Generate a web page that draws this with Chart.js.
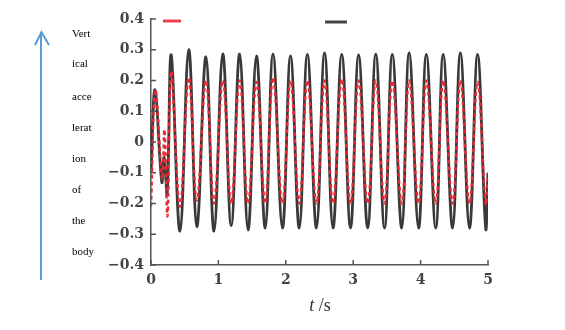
<!DOCTYPE html>
<html>
<head>
<meta charset="utf-8">
<script src="https://cdn.jsdelivr.net/npm/chart.js@4"></script>
<style>
  html, body { margin: 0; padding: 0; background: #fff; }
  #wrap { position: relative; width: 565px; height: 330px; overflow: hidden; }
  canvas { position: absolute; left: 0; top: 0; }
  .w { position: absolute; left: 72px; font-family: "Liberation Serif", serif; font-size: 11px; line-height: 11px; color: #000; white-space: nowrap; }
  #xt { position: absolute; left: 0; width: 640px; top: 296px; text-align: center; font-family: "Liberation Serif", serif; font-size: 18px; line-height: 18px; color: #333; }
  svg { position: absolute; left: 0; top: 0; }
</style>
</head>
<body>
<div id="wrap">
  <canvas id="c" width="565" height="330"></canvas>
  <svg width="565" height="330">
    <line x1="41" y1="280" x2="41" y2="32" stroke="#5b9bd5" stroke-width="2"/>
    <polyline points="35,45 41.5,32 49,45" fill="none" stroke="#5b9bd5" stroke-width="2"/>
  </svg>
  <div class="w" style="top:28px">Vert</div>
  <div class="w" style="top:58px">ical</div>
  <div class="w" style="top:91px">acce</div>
  <div class="w" style="top:122px">lerat</div>
  <div class="w" style="top:153px">ion</div>
  <div class="w" style="top:184px">of</div>
  <div class="w" style="top:215px">the</div>
  <div class="w" style="top:246px">body</div>
  <div id="xt"><i>t</i> /s</div>
</div>
<script>
// ---- data ----
const timeS = [0, 0.06, 0.16, 0.195, 0.24,
  0.30, 0.43, 0.56, 0.68, 0.815, 0.935, 1.065, 1.19, 1.315, 1.44,
  1.565, 1.695, 1.81, 1.95, 2.07, 2.20, 2.32, 2.455, 2.575, 2.70,
  2.83, 2.96, 3.08, 3.215, 3.335, 3.465, 3.58, 3.72, 3.83, 3.97,
  4.085, 4.225, 4.335, 4.475, 4.59, 4.725, 4.845, 4.965, 5.0];
const blackAccel = [-0.10, 0.17, -0.13, -0.05, -0.17,
  0.283, -0.29, 0.30, -0.275, 0.277, -0.29, 0.286, -0.272, 0.286, -0.286,
  0.28, -0.28, 0.286, -0.28, 0.28, -0.28, 0.285, -0.28, 0.29, -0.28,
  0.285, -0.28, 0.283, -0.28, 0.286, -0.28, 0.285, -0.28, 0.29, -0.28,
  0.285, -0.28, 0.285, -0.28, 0.29, -0.28, 0.285, -0.28, -0.10];
const redTimeS = [0, 0.065, 0.165, 0.20, 0.245,
  0.30, 0.43, 0.56, 0.68, 0.815, 0.935, 1.065, 1.19, 1.315, 1.44,
  1.565, 1.695, 1.81, 1.95, 2.07, 2.20, 2.32, 2.455, 2.575, 2.70,
  2.83, 2.96, 3.08, 3.215, 3.335, 3.465, 3.58, 3.72, 3.83, 3.97,
  4.085, 4.225, 4.335, 4.475, 4.59, 4.725, 4.845, 4.965, 5.0];
const redAccel = [-0.21, 0.17, -0.12, 0.04, -0.24,
  0.23, -0.21, 0.21, -0.19, 0.20, -0.20, 0.20, -0.20, 0.20, -0.20,
  0.195, -0.20, 0.21, -0.20, 0.20, -0.20, 0.20, -0.20, 0.20, -0.20,
  0.205, -0.20, 0.20, -0.20, 0.20, -0.20, 0.20, -0.20, 0.20, -0.20,
  0.20, -0.20, 0.20, -0.20, 0.20, -0.20, 0.195, -0.20, -0.10];
const xTicks = [0, 1, 2, 3, 4, 5];
const yTicks = [-0.4, -0.3, -0.2, -0.1, 0, 0.1, 0.2, 0.3, 0.4];

const blackPts = timeS.map((t, i) => ({x: t, y: blackAccel[i]}));
const redPts = redTimeS.map((t, i) => ({x: t, y: redAccel[i]}));

const fmtY = v => {
  const r = Math.round(v * 10) / 10;
  if (r === 0) return '0';
  return (r < 0 ? '\u2212' : '') + Math.abs(r).toFixed(1);
};

const inwardTicks = {
  id: 'inwardTicks',
  afterDraw(chart) {
    const ctx = chart.ctx;
    const xs = chart.scales.x, ys = chart.scales.y;
    ctx.save();
    ctx.strokeStyle = '#555';
    ctx.lineWidth = 1.5;
    ys.ticks.forEach(tk => {
      const y = ys.getPixelForValue(tk.value);
      ctx.beginPath(); ctx.moveTo(ys.right, y); ctx.lineTo(ys.right + 5, y); ctx.stroke();
    });
    xs.ticks.forEach(tk => {
      const x = xs.getPixelForValue(tk.value);
      ctx.beginPath(); ctx.moveTo(x, xs.top); ctx.lineTo(x, xs.top - 5); ctx.stroke();
    });
    // legend markers (labels blank in the reference)
    ctx.lineWidth = 3;
    ctx.strokeStyle = '#e8404c';
    ctx.beginPath(); ctx.moveTo(163, 21); ctx.lineTo(181, 21); ctx.stroke();
    ctx.strokeStyle = '#444';
    ctx.beginPath(); ctx.moveTo(325, 22); ctx.lineTo(347, 22); ctx.stroke();
    ctx.restore();
  }
};

const tickFont = { family: 'DejaVu Serif', size: 14, weight: 'bold' };

new Chart(document.getElementById('c'), {
  type: 'line',
  data: {
    datasets: [
      { data: redPts, borderColor: '#e82832', borderWidth: 2.4, borderDash: [4, 3],
        pointRadius: 0, tension: 0.4, order: 1, fill: false },
      { data: blackPts, borderColor: 'rgba(35,35,35,0.9)', borderWidth: 2.8,
        pointRadius: 0, tension: 0.4, order: 2, fill: false }
    ]
  },
  options: {
    responsive: false,
    animation: false,
    events: [],
    layout: { padding: { left: 0, right: 77, top: 19, bottom: 0 } },
    plugins: { legend: { display: false }, tooltip: { enabled: false } },
    scales: {
      x: {
        type: 'linear', min: 0, max: 5,
        afterFit: s => { s.height = 65; },
        afterBuildTicks: s => { s.ticks = xTicks.map(v => ({value: v})); },
        grid: { display: true, drawOnChartArea: false, drawTicks: false },
        border: { display: true, color: '#555', width: 1.5 },
        ticks: { padding: 7, color: '#444', font: tickFont,
                 maxRotation: 0, callback: v => String(v) }
      },
      y: {
        type: 'linear', min: -0.4, max: 0.4,
        afterFit: s => { s.width = 151; },
        afterBuildTicks: s => { s.ticks = yTicks.map(v => ({value: v})); },
        grid: { display: true, drawOnChartArea: false, drawTicks: false },
        border: { display: true, color: '#555', width: 1.5 },
        ticks: { padding: 7, color: '#444', font: tickFont,
                 callback: v => fmtY(v) }
      }
    }
  },
  plugins: [inwardTicks]
});
</script>
</body>
</html>
